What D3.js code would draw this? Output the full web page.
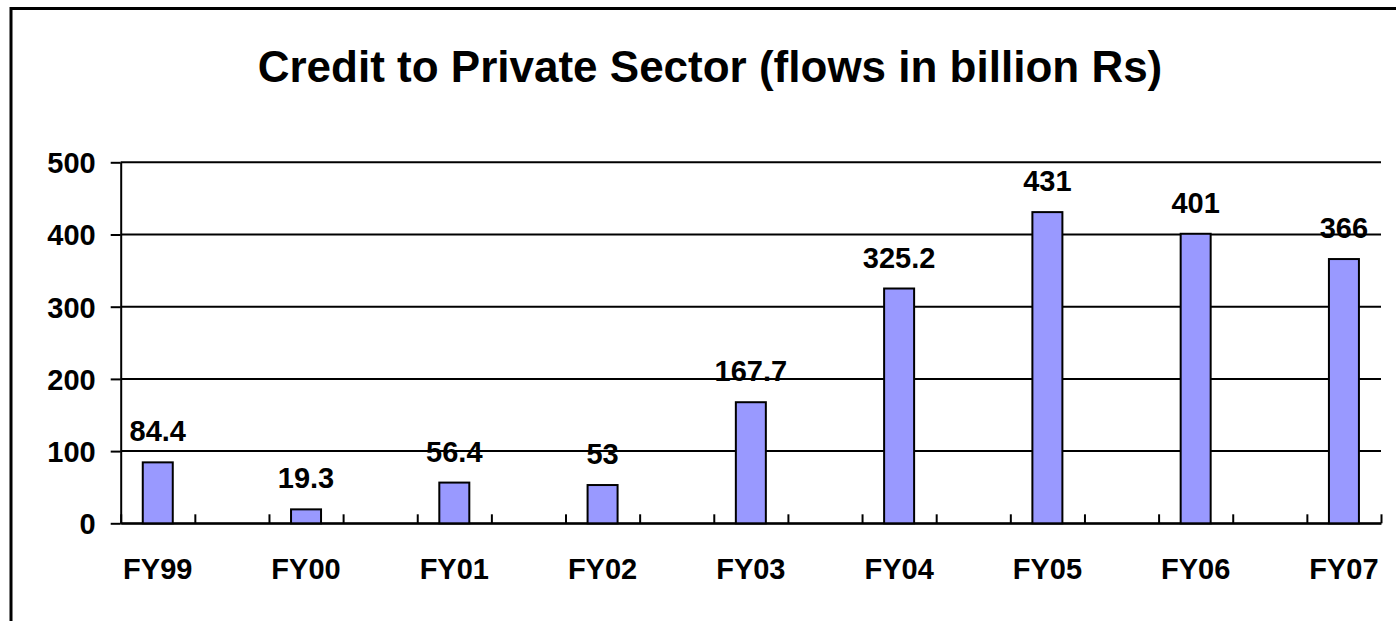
<!DOCTYPE html>
<html>
<head>
  <meta charset="utf-8">
  <title>Credit to Private Sector</title>
  <script src="https://d3js.org/d3.v7.min.js"></script>
  <style type="text/css">
    body {margin: 0; background: #fff;}
    text {font-family: Arial, 'Liberation Sans', sans-serif; font-weight: bold; fill: #000;}
  </style>
</head>
<body>
  <div id="viz"></div>
<script type="text/javascript">

  const TITLE = "Credit to Private Sector (flows in billion Rs)";

  // fiscal years and credit flows (billion Rs)
  const years = ["FY99", "FY00", "FY01", "FY02", "FY03", "FY04", "FY05", "FY06", "FY07"];
  const flows = [84.4, 19.3, 56.4, 53, 167.7, 325.2, 431, 401, 366];
  const yTicks = [0, 100, 200, 300, 400, 500];

  const colorSet = {
    "bar": "#9999ff",
    "line": "#000"
  };

  const FULLW = 1396;
  const FULLH = 621;
  const LABELSIZE = "29px";

  // plot area
  const PLOT = { left: 120.7, right: 1381, top: 162.3, bottom: 523.3 };
  // each year takes one slot, with an empty slot between years
  const NSLOTS = years.length * 2 - 1;
  const BARW = 30;

  const x = d3.scaleLinear().domain([0, NSLOTS]).range([PLOT.left, PLOT.right]);
  const y = d3.scaleLinear().domain([0, 500]).range([PLOT.bottom, PLOT.top]);

  const svg = d3.select("#viz")
    .append("svg")
    .attr("width", FULLW)
    .attr("height", FULLH);

  svg.append("rect")
    .attr("width", "100%")
    .attr("height", "100%")
    .attr("fill", "#fff");

  // outer frame (runs off the right and bottom)
  svg.append("rect")
    .attr("x", 11)
    .attr("y", 8.5)
    .attr("width", FULLW + 20)
    .attr("height", FULLH + 20)
    .attr("fill", "none")
    .attr("stroke", colorSet.line)
    .attr("stroke-width", 3);

  svg.append("text")
    .text(TITLE)
    .attr("x", 710)
    .attr("y", 82)
    .attr("text-anchor", "middle")
    .style("font-size", "44px");

  // gridlines
  svg.append("g")
    .selectAll("line")
    .data(yTicks)
    .join("line")
    .attr("x1", PLOT.left)
    .attr("x2", PLOT.right)
    .attr("y1", d => y(d))
    .attr("y2", d => y(d))
    .attr("stroke", colorSet.line)
    .attr("stroke-width", 2);

  // y axis
  const yAxis = svg.append("g")
    .attr("transform", "translate(" + PLOT.left + ",0)")
    .call(d3.axisLeft(y).tickValues(yTicks).tickSize(10).tickPadding(15).tickSizeOuter(0));
  yAxis.select(".domain").attr("stroke", colorSet.line).attr("stroke-width", 2);
  yAxis.selectAll(".tick line").attr("stroke-width", 2);
  yAxis.selectAll(".tick text")
    .attr("font-family", null)
    .style("font-size", LABELSIZE)
    .attr("dy", "0.36em");

  // x axis: ticks on the slot boundaries, pointing up into the plot
  const xAxis = svg.append("g")
    .attr("transform", "translate(0," + PLOT.bottom + ")")
    .call(d3.axisTop(x).tickValues(d3.range(NSLOTS + 1)).tickSize(9).tickFormat("").tickSizeOuter(0));
  xAxis.select(".domain").attr("stroke-width", 2);
  xAxis.selectAll(".tick line").attr("stroke-width", 2);

  // category labels
  svg.append("g")
    .selectAll("text")
    .data(years)
    .join("text")
    .text(d => d)
    .attr("x", (d, i) => x(2 * i + 0.5))
    .attr("y", 579)
    .attr("text-anchor", "middle")
    .style("font-size", LABELSIZE);

  // bars
  svg.append("g")
    .selectAll("rect")
    .data(flows)
    .join("rect")
    .attr("x", (d, i) => x(2 * i + 0.5) - BARW / 2)
    .attr("y", d => y(d))
    .attr("width", BARW)
    .attr("height", d => y(0) - y(d))
    .attr("fill", colorSet.bar)
    .attr("stroke", colorSet.line)
    .attr("stroke-width", 2);

  // value labels
  svg.append("g")
    .selectAll("text")
    .data(flows)
    .join("text")
    .text(d => d)
    .attr("x", (d, i) => x(2 * i + 0.5))
    .attr("y", d => y(d) - 21)
    .attr("text-anchor", "middle")
    .style("font-size", LABELSIZE);

</script>
</body>
</html>
